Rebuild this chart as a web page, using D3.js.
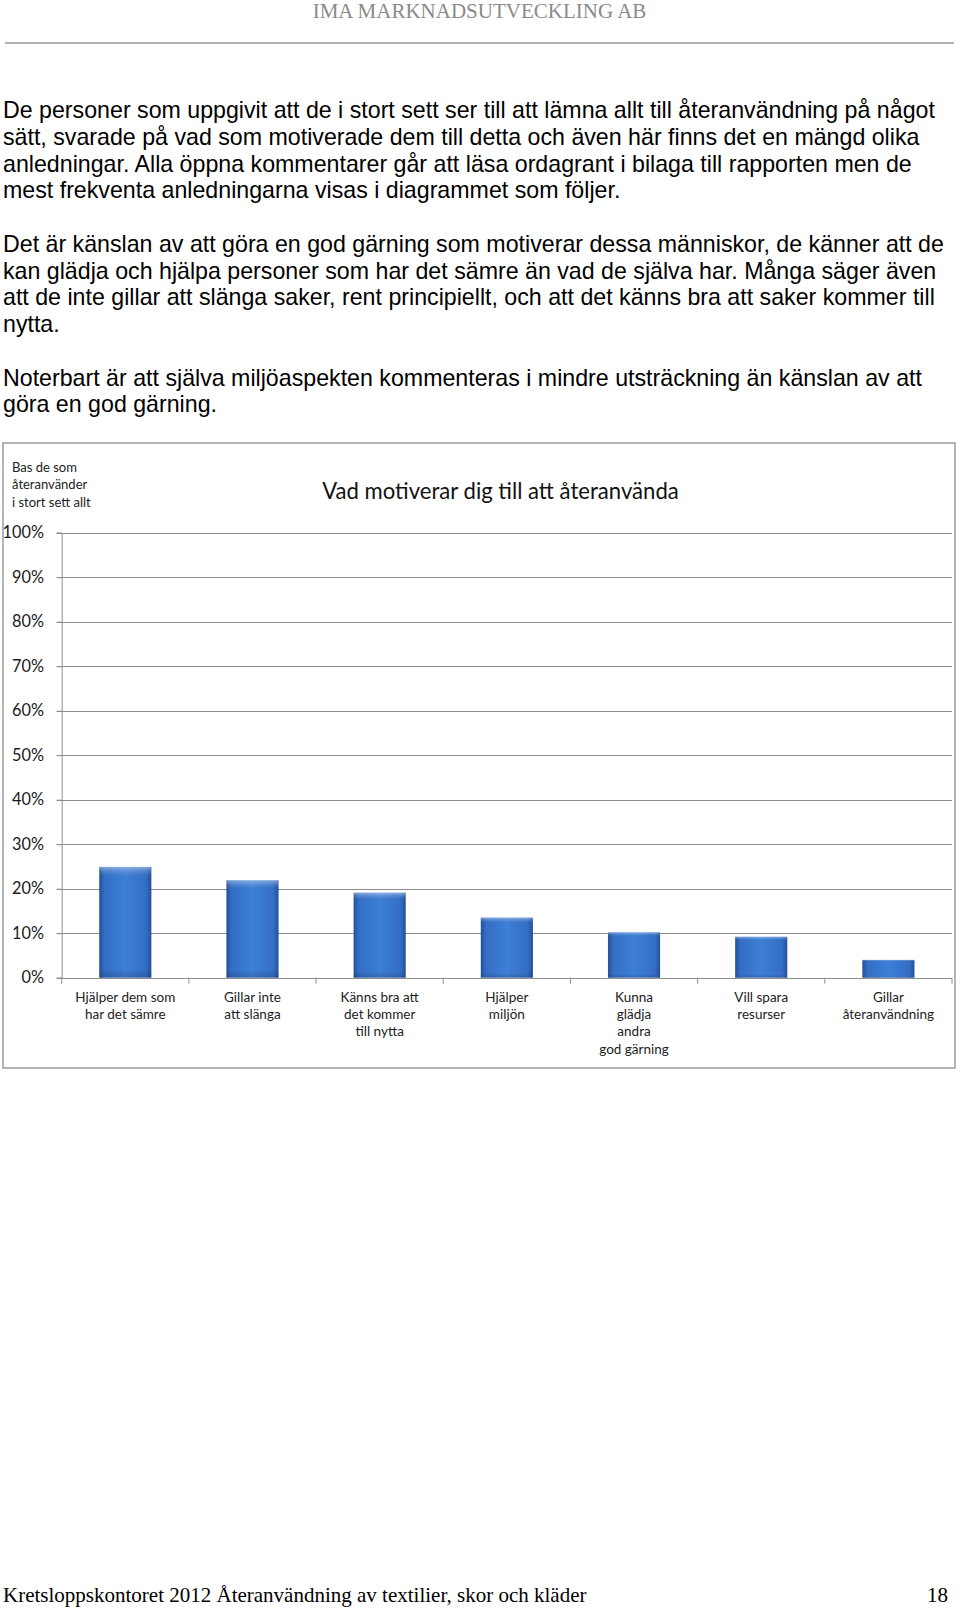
<!DOCTYPE html>
<html>
<head>
<meta charset="utf-8">
<script src="https://cdn.jsdelivr.net/npm/d3@7"></script>
<style>
  html, body { margin: 0; padding: 0; background: #fff; }
  svg { display: block; }
</style>
</head>
<body>
<svg id="page" width="960" height="1611"></svg>
<script>
// ---------- data ----------
const headerText = "IMA MARKNADSUTVECKLING AB";
const paragraphs = [
  ["De personer som uppgivit att de i stort sett ser till att lämna allt till återanvändning på något",
   "sätt, svarade på vad som motiverade dem till detta och även här finns det en mängd olika",
   "anledningar. Alla öppna kommentarer går att läsa ordagrant i bilaga till rapporten men de",
   "mest frekventa anledningarna visas i diagrammet som följer."],
  ["Det är känslan av att göra en god gärning som motiverar dessa människor, de känner att de",
   "kan glädja och hjälpa personer som har det sämre än vad de själva har. Många säger även",
   "att de inte gillar att slänga saker, rent principiellt, och att det känns bra att saker kommer till",
   "nytta."],
  ["Noterbart är att själva miljöaspekten kommenteras i mindre utsträckning än känslan av att",
   "göra en god gärning."]
];
const chartTitle = "Vad motiverar dig till att återanvända";
const baseNote = ["Bas de som", "återanvänder", "i stort sett allt"];
const categories = [
  ["Hjälper dem som", "har det sämre"],
  ["Gillar inte", "att slänga"],
  ["Känns bra att", "det kommer", "till nytta"],
  ["Hjälper", "miljön"],
  ["Kunna", "glädja", "andra", "god gärning"],
  ["Vill spara", "resurser"],
  ["Gillar", "återanvändning"]
];
const values = [24.9, 21.9, 19.1, 13.5, 10.2, 9.2, 4.0];
const yTicks = [0, 10, 20, 30, 40, 50, 60, 70, 80, 90, 100];
const footerLeft = "Kretsloppskontoret 2012 Återanvändning av textilier, skor och kläder";
const footerRight = "18";

// ---------- drawing ----------
const svg = d3.select("#page");
const serif = "'Liberation Serif', 'Times New Roman', serif";
const sans = "'Liberation Sans', Arial, sans-serif";
const chartFont = "Lato, 'Open Sans', sans-serif";

// header
svg.append("text").attr("x", 479.5).attr("y", 18)
  .attr("text-anchor", "middle").attr("font-family", serif).attr("font-size", 21)
  .attr("fill", "#8a8a8a").text(headerText);
svg.append("line").attr("x1", 5).attr("x2", 954).attr("y1", 43).attr("y2", 43)
  .attr("stroke", "#b2b2b2").attr("stroke-width", 2);

// body paragraphs
const lineH = 26.75;
let lineIdx = 0;
const bodyLines = [];
paragraphs.forEach((p, pi) => {
  p.forEach(l => { bodyLines.push({ text: l, i: lineIdx }); lineIdx++; });
  lineIdx++; // blank line between paragraphs
});
svg.append("g").selectAll("text").data(bodyLines).join("text")
  .attr("x", 3).attr("y", d => 118 + d.i * lineH)
  .attr("font-family", sans).attr("font-size", 23.2).attr("fill", "#000")
  .text(d => d.text);

// chart frame
svg.append("rect").attr("x", 3).attr("y", 443).attr("width", 952).attr("height", 625)
  .attr("fill", "#fff").attr("stroke", "#9c9c9c").attr("stroke-width", 1.5);

const x0 = 61.7, x1 = 952, yTop = 532.7, yBot = 977.7;
const y = d3.scaleLinear().domain([0, 100]).range([yBot, yTop]);
const catIdx = categories.map((c, i) => i);
const xOuter = d3.scaleBand().domain(catIdx).range([x0, x1]).padding(0);
const x = xOuter.copy().paddingInner(0.59).paddingOuter(0.295);

// defs: bar gradient
const defs = svg.append("defs");
const gH = defs.append("linearGradient").attr("id", "barH").attr("x1", "0").attr("x2", "1").attr("y1", "0").attr("y2", "0");
[["0%", "#24509a"], ["10%", "#336ec4"], ["50%", "#3d7fd6"], ["90%", "#336ec4"], ["100%", "#24509a"]]
  .forEach(s => gH.append("stop").attr("offset", s[0]).attr("stop-color", s[1]));
const gV = defs.append("linearGradient").attr("id", "barV").attr("x1", "0").attr("x2", "0").attr("y1", "0").attr("y2", "1");
[["0%", "#ffffff", 0.4], ["4%", "#ffffff", 0.14], ["8%", "#ffffff", 0.0], ["92%", "#000000", 0.0], ["100%", "#000000", 0.15]]
  .forEach(s => gV.append("stop").attr("offset", s[0]).attr("stop-color", s[1]).attr("stop-opacity", s[2]));

// gridlines
svg.append("g").selectAll("line").data(yTicks).join("line")
  .attr("x1", x0 - 5).attr("x2", x1)
  .attr("y1", d => Math.round(y(d)) + 0.5).attr("y2", d => Math.round(y(d)) + 0.5)
  .attr("stroke", "#8e8e8e").attr("stroke-width", 1);

// y axis
const yAxis = svg.append("g").attr("transform", `translate(${x0},0)`)
  .call(d3.axisLeft(y).tickValues(yTicks).tickFormat(d => d + "%").tickSize(5).tickPadding(12.7));
yAxis.select(".domain").attr("stroke", "#8e8e8e");
yAxis.selectAll(".tick line").attr("stroke", "#8e8e8e");
yAxis.selectAll(".tick text").attr("font-family", chartFont).attr("font-size", 16.3).attr("fill", "#1a1a1a");

// x axis baseline ticks at category boundaries
const boundaries = catIdx.map(i => xOuter(i)).concat([x1]);
svg.append("g").selectAll("line").data(boundaries).join("line")
  .attr("x1", d => d).attr("x2", d => d).attr("y1", yBot).attr("y2", yBot + 6)
  .attr("stroke", "#8e8e8e");

// bars
const bars = svg.append("g").selectAll("g").data(values).join("g");
bars.append("rect")
  .attr("x", (d, i) => x(i)).attr("width", x.bandwidth())
  .attr("y", d => y(d)).attr("height", d => yBot - y(d))
  .attr("fill", "url(#barH)");
bars.append("rect")
  .attr("x", (d, i) => x(i)).attr("width", x.bandwidth())
  .attr("y", d => y(d)).attr("height", d => yBot - y(d))
  .attr("fill", "url(#barV)");

// category labels
const labelG = svg.append("g").selectAll("text").data(categories).join("text")
  .attr("text-anchor", "middle").attr("font-family", chartFont).attr("font-size", 13.5).attr("fill", "#222");
labelG.selectAll("tspan").data((d, i) => d.map(t => ({ t, i }))).join("tspan")
  .attr("x", d => xOuter(d.i) + xOuter.bandwidth() / 2)
  .attr("y", (d, j) => 1001.5 + j * 17.4)
  .text(d => d.t);

// title
svg.append("text").attr("x", 500.5).attr("y", 499)
  .attr("text-anchor", "middle").attr("font-family", chartFont).attr("font-size", 22.1)
  .attr("fill", "#111").text(chartTitle);

// base note
svg.append("g").selectAll("text").data(baseNote).join("text")
  .attr("x", 12).attr("y", (d, i) => 472 + i * 17.4)
  .attr("font-family", chartFont).attr("font-size", 13).attr("fill", "#222")
  .text(d => d);

// footer
svg.append("text").attr("x", 3).attr("y", 1602)
  .attr("font-family", serif).attr("font-size", 21).attr("fill", "#000").text(footerLeft);
svg.append("text").attr("x", 948).attr("y", 1602).attr("text-anchor", "end")
  .attr("font-family", serif).attr("font-size", 21).attr("fill", "#000").text(footerRight);
</script>
</body>
</html>
